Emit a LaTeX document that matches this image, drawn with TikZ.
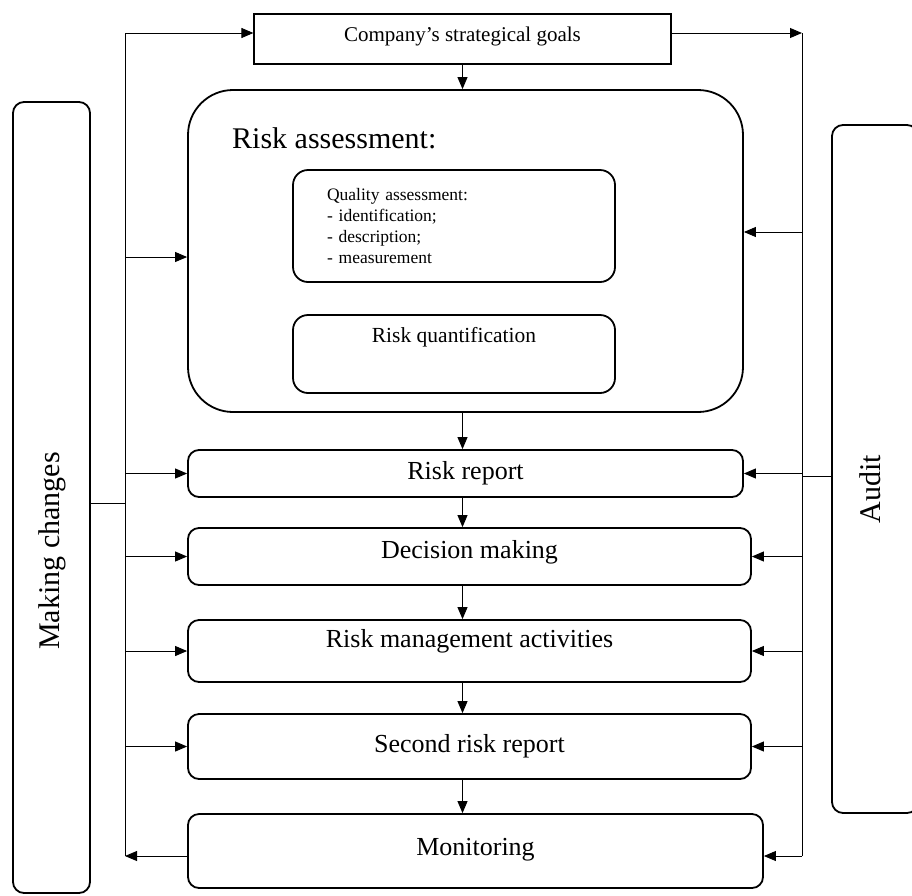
\documentclass[tikz,border=0pt]{standalone}
\usepackage{fontspec}
\setmainfont{Liberation Serif}
\usetikzlibrary{arrows.meta}
\usetikzlibrary{calc}

\tikzset{
  stage/.style={draw,line width=1.8pt,rounded corners=11pt,inner xsep=0pt,
    inner ysep=0pt,anchor=base,font=\fontsize{26}{30}\selectfont},
  inner box/.style={draw,line width=1.8pt,rounded corners=15pt,minimum width=322pt},
  sidebox/.style={draw,line width=1.8pt,rounded corners=11pt},
  sidetext/.style={rotate=90,inner sep=0pt,font=\fontsize{30}{34}\selectfont},
  link/.style={line width=0.9pt},
}

\begin{document}
\begin{tikzpicture}[x=1pt,y=-1pt,>={Triangle[length=12pt,width=10pt]}]
  \useasboundingbox (0,0) rectangle (912,895);

  % top goal
  \node[draw,line width=1.2pt,anchor=base,minimum width=417pt,inner sep=0pt,
    text height=27pt,text depth=23pt,font=\fontsize{21}{25}\selectfont]
    (goals) at (462.5,41) {Company’s strategical goals};

  % risk assessment block
  \node[draw,line width=1.8pt,rounded corners=45pt,minimum width=555pt,
    minimum height=322pt] (assess) at (465.5,251) {};
  \node[anchor=base west,inner sep=0pt,font=\fontsize{30}{34}\selectfont]
    (assesstitle) at (232,148) {Risk assessment:};
  \node[inner box,minimum height=112pt,text width=254pt,inner xsep=34pt,
    align=left,font=\fontsize{17.5}{21}\selectfont] (quality) at (454,226)
    {Quality assessment:\\- identification;\\- description;\\- measurement};
  \node[inner box,inner sep=0pt,anchor=base,text height=27pt,text depth=51pt,
    font=\fontsize{21.5}{25}\selectfont] (quant) at (454,342)
    {Risk quantification};

  % stages
  \node[stage,minimum width=555pt,text height=29pt,text depth=18pt]
    (report) at (465.5,479) {Risk report};
  \node[stage,minimum width=563pt,text height=30pt,text depth=27pt]
    (decision) at (469.5,558) {Decision making};
  \node[stage,minimum width=563pt,text height=27pt,text depth=35pt]
    (manage) at (469.5,647) {Risk management activities};
  \node[stage,minimum width=563pt,text height=38pt,text depth=27pt]
    (second) at (469.5,752) {Second risk report};
  \node[stage,minimum width=575pt,text height=41pt,text depth=33pt]
    (monitor) at (475.5,855) {Monitoring};

  % side boxes
  \node[sidebox,minimum width=77pt,minimum height=791pt] (mkchg) at (51.5,497.5) {};
  \node[sidetext] (mkchgtext) at (52,551) {Making changes};
  \node[sidebox,minimum width=86pt,minimum height=688pt] (audit) at (875,469) {};
  \node[sidetext] (audittext) at (870,489) {Audit};

  % bus lines
  \coordinate (ltop) at (125,33);
  \coordinate (lbot) at (125,856);
  \coordinate (rtop) at (802,33);
  \coordinate (rbot) at (802,856);
  \draw[link] (ltop) -- (lbot);
  \draw[link] (rtop) -- (rbot);
  \draw[link,->] (ltop) -- (ltop -| goals.west);
  \draw[link,->] (goals.east |- rtop) -- (rtop);
  \draw[link] ($(mkchg.east)+(0,6)$) -- ($(ltop |- mkchg.east)+(0,6)$);
  \draw[link] ($(audit.west)+(0,7)$) -- ($(rtop |- audit.west)+(0,7)$);

  % arrows
  \draw[link,->] (goals.south) -- (goals.south |- assess.north);
  \foreach \a/\b in {assess/report,report/decision,decision/manage,
      manage/second,second/monitor}
    \draw[link,->] (goals.south |- \a.south) -- (goals.south |- \b.north);
  \draw[link,->] ($(ltop |- assess.west)+(0,6)$) -- ($(assess.west)+(0,6)$);
  \draw[link,->] ($(rtop |- assess.east)+(0,-19)$) -- ($(assess.east)+(0,-19)$);
  \foreach \n in {report,decision,manage,second} {
    \draw[link,->] (ltop |- \n.west) -- (\n.west);
    \draw[link,->] (rtop |- \n.east) -- (\n.east);
  }
  \draw[link,->] ($(monitor.west)+(0,5)$) -- ($(lbot |- monitor.west)+(0,5)$);
  \draw[link,->] ($(rtop |- monitor.east)+(0,5)$) -- ($(monitor.east)+(0,5)$);
\end{tikzpicture}
\end{document}
